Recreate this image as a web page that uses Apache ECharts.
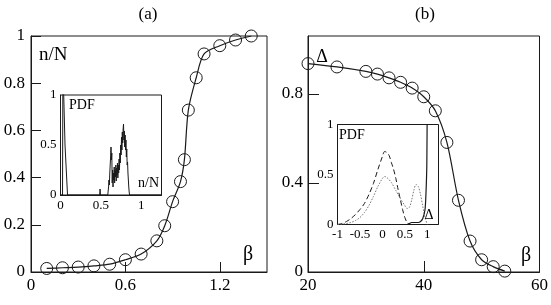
<!DOCTYPE html>
<html>
<head>
<meta charset="utf-8">
<script src="https://cdn.jsdelivr.net/npm/echarts@6/dist/echarts.min.js"></script>
<style>
html, body { margin: 0; padding: 0; background: #fff; }
#chart { width: 551px; height: 305px; }
</style>
</head>
<body>
<div id="chart"></div>
<script>
// panel (a): n/N against beta
var betaA = [0.1, 0.2, 0.3, 0.4, 0.5, 0.6, 0.7, 0.8, 0.85, 0.9, 0.95, 0.975, 1.0, 1.05, 1.1, 1.2, 1.3, 1.4]
var fracA = [0.015, 0.018, 0.021, 0.026, 0.033, 0.052, 0.076, 0.132, 0.196, 0.298, 0.383, 0.476, 0.686, 0.823, 0.924, 0.959, 0.983, 1.0]

// panel (b): Delta against beta
var betaB = [20, 25, 30, 32, 34, 36, 38, 40, 42, 44, 46, 48, 50, 52, 54]
var deltaB = [0.936, 0.921, 0.901, 0.889, 0.872, 0.852, 0.826, 0.787, 0.724, 0.582, 0.322, 0.139, 0.055, 0.024, 0.004]

// inset (a): PDF of n/N  [n/N, PDF]
var pdfA = [
  [0, 0], [0.025, 0], [0.03, 1.3], [0.045, 1.3], [0.056, 0.5], [0.087, 0],
  [0.485, 0], [0.49, 0.06], [0.494, 0],
  [0.585, 0], [0.59, 0.02], [0.595, 0.08], [0.6, 0.15], [0.605, 0.1], [0.61, 0.22],
  [0.615, 0.3], [0.62, 0.38], [0.625, 0.48], [0.63, 0.35], [0.635, 0.42], [0.64, 0.12],
  [0.645, 0.25], [0.65, 0.08], [0.655, 0.22], [0.66, 0.15], [0.665, 0.28], [0.67, 0.12],
  [0.675, 0.25], [0.68, 0.18], [0.685, 0.3], [0.69, 0.14], [0.695, 0.27], [0.7, 0.2],
  [0.705, 0.32], [0.71, 0.17], [0.715, 0.3], [0.72, 0.22], [0.725, 0.36], [0.73, 0.25],
  [0.735, 0.42], [0.74, 0.32], [0.745, 0.5], [0.75, 0.4], [0.755, 0.58], [0.76, 0.45],
  [0.765, 0.63], [0.77, 0.52], [0.775, 0.66], [0.78, 0.71], [0.785, 0.55], [0.79, 0.64],
  [0.795, 0.48], [0.8, 0.6], [0.805, 0.45], [0.81, 0.55], [0.815, 0.38], [0.82, 0.46],
  [0.825, 0.3], [0.83, 0.33], [0.835, 0.22], [0.84, 0.15], [0.845, 0.08], [0.85, 0.03],
  [0.855, 0], [1.25, 0]
]

// inset (b): PDF of Delta, three beta values  [Delta, PDF]
var pdfDashed = [
  [-1, 0], [-0.9, 0.01], [-0.8, 0.03], [-0.7, 0.06], [-0.6, 0.1], [-0.5, 0.15],
  [-0.4, 0.21], [-0.3, 0.3], [-0.2, 0.41], [-0.1, 0.55], [0, 0.68], [0.05, 0.73],
  [0.1, 0.72], [0.15, 0.69], [0.2, 0.62], [0.25, 0.55], [0.3, 0.46], [0.35, 0.35],
  [0.4, 0.25], [0.45, 0.15], [0.5, 0.07], [0.55, 0.02], [0.6, 0]
]
var pdfDotted = [
  [-1, 0], [-0.9, 0.005], [-0.8, 0.01], [-0.7, 0.02], [-0.6, 0.04], [-0.5, 0.07],
  [-0.4, 0.12], [-0.3, 0.19], [-0.2, 0.28], [-0.1, 0.38], [0, 0.46], [0.05, 0.48],
  [0.1, 0.47], [0.2, 0.42], [0.3, 0.34], [0.4, 0.26], [0.5, 0.19], [0.55, 0.16],
  [0.6, 0.17], [0.65, 0.24], [0.7, 0.34], [0.75, 0.4], [0.8, 0.38], [0.85, 0.3],
  [0.9, 0.18], [0.95, 0.07], [1.0, 0]
]
var pdfSolid = [
  [0.55, 0], [0.6, 0.01], [0.65, 0.02], [0.7, 0.02], [0.75, 0.02], [0.8, 0.02],
  [0.85, 0.03], [0.9, 0.06], [0.95, 0.15], [0.97, 0.3], [0.99, 0.6], [1.0, 1.3]
]

var FONT = 'Liberation Serif'
var INK = '#1a1a1a'

function zip(xs, ys) {
  return xs.map(function(x, i) { return [x, ys[i]] })
}

function axis(gridIndex, min, max, interval, fontSize, tickLen, margin) {
  // only label values that sit on the tick interval (hide an odd max like 1.06)
  var steps = max / interval
  var maxOnTick = Math.abs(steps - Math.round(steps)) < 1e-6
  return {
    type: 'value',
    gridIndex: gridIndex,
    min: min,
    max: max,
    interval: interval,
    splitLine: { show: false },
    axisLine: { show: true, onZero: false, lineStyle: { color: INK, width: 1 } },
    axisTick: { show: true, inside: true, length: tickLen, lineStyle: { color: INK, width: 1 } },
    axisLabel: {
      showMaxLabel: maxOnTick,
      margin: margin,
      color: '#000',
      fontFamily: FONT,
      fontSize: fontSize
    }
  }
}

function label(text, x, y, size, align) {
  return {
    type: 'text',
    x: x,
    y: y,
    z: 100,
    style: {
      text: text,
      fill: '#000',
      font: size + 'px "' + FONT + '"',
      align: align || 'center',
      verticalAlign: 'middle'
    }
  }
}

var chart = echarts.init(document.getElementById('chart'))

var gridStyle = { show: true, borderColor: INK, borderWidth: 1, backgroundColor: '#fff' }

chart.setOption({
  animation: false,
  backgroundColor: '#fff',
  grid: [
    Object.assign({ left: 31, top: 36, width: 236, height: 236 }, gridStyle),
    Object.assign({ left: 60.5, top: 95, width: 101, height: 100, z: 10 }, gridStyle),
    Object.assign({ left: 308, top: 36, width: 236, height: 236 }, gridStyle),
    Object.assign({ left: 337.5, top: 124.5, width: 101, height: 100, z: 10 }, gridStyle)
  ],
  xAxis: [
    axis(0, 0, 1.5, 0.6, 17, 10, 5),
    axis(1, 0, 1.25, 0.5, 13, 5, 4),
    axis(2, 20, 60, 20, 17, 11, 5),
    axis(3, -1, 1.25, 0.5, 13, 5, 4)
  ],
  yAxis: [
    axis(0, 0, 1, 0.2, 17, 10, 6),
    axis(1, 0, 1, 0.5, 13, 5, 4),
    axis(2, 0, 1.06, 0.4, 17, 11, 5),
    axis(3, 0, 1, 0.5, 13, 5, 4)
  ],
  series: [
    {
      type: 'line',
      xAxisIndex: 0,
      yAxisIndex: 0,
      data: zip(betaA, fracA),
      smooth: 0.3,
      symbol: 'circle',
      symbolSize: 12,
      itemStyle: { color: 'rgba(0,0,0,0)', borderColor: INK, borderWidth: 1 },
      lineStyle: { color: INK, width: 1.2 }
    },
    {
      type: 'line',
      xAxisIndex: 1,
      yAxisIndex: 1,
      z: 11,
      data: pdfA,
      symbol: 'none',
      lineStyle: { color: INK, width: 1 }
    },
    {
      type: 'line',
      xAxisIndex: 2,
      yAxisIndex: 2,
      data: zip(betaB, deltaB),
      smooth: 0.3,
      symbol: 'circle',
      symbolSize: 12,
      itemStyle: { color: 'rgba(0,0,0,0)', borderColor: INK, borderWidth: 1 },
      lineStyle: { color: INK, width: 1.2 }
    },
    {
      type: 'line',
      xAxisIndex: 3,
      yAxisIndex: 3,
      z: 11,
      data: pdfDashed,
      smooth: 0.3,
      symbol: 'none',
      lineStyle: { color: INK, width: 1, type: [5, 3] }
    },
    {
      type: 'line',
      xAxisIndex: 3,
      yAxisIndex: 3,
      z: 11,
      data: pdfDotted,
      smooth: 0.3,
      symbol: 'none',
      lineStyle: { color: '#777', width: 1, type: [1.5, 1.5] }
    },
    {
      type: 'line',
      xAxisIndex: 3,
      yAxisIndex: 3,
      z: 11,
      data: pdfSolid,
      smooth: 0.2,
      symbol: 'none',
      lineStyle: { color: INK, width: 1.2 }
    }
  ],
  graphic: [
    label('(a)', 148, 15, 17),
    label('(b)', 425, 15, 17),
    label('n/N', 39, 55, 19, 'left'),
    label('\u03B2', 248, 255, 20),
    label('\u0394', 322, 57, 18),
    label('\u03B2', 526, 256, 20),
    label('PDF', 69, 105, 14, 'left'),
    label('n/N', 159, 183, 14, 'right'),
    label('PDF', 339, 135, 14, 'left'),
    label('\u0394', 429, 215, 14)
  ]
})
</script>
</body>
</html>
